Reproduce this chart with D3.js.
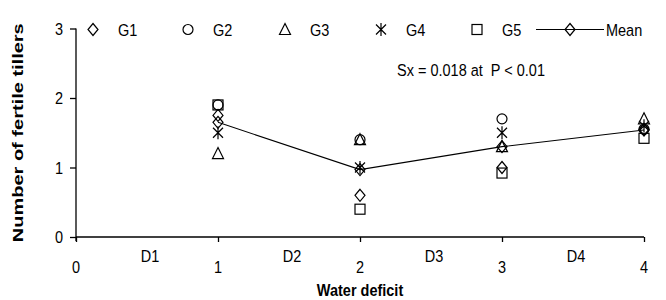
<!DOCTYPE html>
<html lang="en">
<head>
    <meta charset="UTF-8">
    <title>Fertile tillers vs water deficit</title>
    <script src="https://d3js.org/d3.v7.min.js"></script>
    <style>
        body { margin: 0; background: #fff; font-family: "Liberation Sans", Arial, sans-serif; }
        svg text { fill: #000; white-space: pre; }
        .mark { fill: none; stroke: #000; stroke-width: 1.2px; }
    </style>
</head>
<body>
<svg id="chart" width="666" height="300"></svg>
<script>
    // x positions of the measurements (water deficit level)
    const levels = [1, 2, 3, 4];
    const xTicks = [0, 1, 2, 3, 4];
    const yTicks = [0, 1, 2, 3];
    const stageLabels = ["D1", "D2", "D3", "D4"];
    const stagePos = [0.5, 1.5, 2.5, 3.5];

    const genotypes = ["G1", "G2", "G3", "G4", "G5"];
    const g1 = [1.75, 0.6, 1.0, 1.55];
    const g2 = [1.9, 1.4, 1.7, 1.55];
    const g3 = [1.2, 1.4, 1.3, 1.7];
    const g4 = [1.5, 1.0, 1.5, 1.6];
    const g5 = [1.9, 0.4, 0.92, 1.42];
    const meanVals = [1.65, 0.97, 1.3, 1.54];

    const note = "Sx = 0.018 at  P < 0.01";

    const svg = d3.select("#chart");
    const margin = { top: 28.5, right: 22, bottom: 63, left: 76 };
    const W = 666, H = 300;
    const FS = 14.5;      // base font size
    const STRETCH = 1.2;  // the original picture has slightly tall glyphs

    const x = d3.scaleLinear().domain([0, 4]).range([margin.left, W - margin.right]);
    const y = d3.scaleLinear().domain([0, 3]).range([H - margin.bottom, margin.top]);

    // text helper: positions a (vertically stretched) label
    function label(px, py, str, anchor, weight) {
        return svg.append("text")
            .attr("transform", `translate(${px},${py}) scale(1,${STRETCH})`)
            .attr("text-anchor", anchor || "start")
            .attr("dy", "0.35em")
            .attr("font-size", FS)
            .attr("font-weight", weight || "normal")
            .text(str);
    }

    // marker shapes
    function marker(g, kind) {
        if (kind === "diamond") {
            g.append("path").attr("class", "mark").attr("d", "M0,-6L5,0L0,6L-5,0Z");
        } else if (kind === "circle") {
            g.append("circle").attr("class", "mark").attr("r", 5);
        } else if (kind === "triangle") {
            g.append("path").attr("class", "mark").attr("d", "M0,-6L5.5,5L-5.5,5Z");
        } else if (kind === "star") {
            g.append("path").attr("class", "mark").attr("d", "M-5,-5L5,5M-5,5L5,-5M0,-6.5L0,6.5");
        } else if (kind === "square") {
            g.append("rect").attr("class", "mark").attr("x", -5).attr("y", -5).attr("width", 10).attr("height", 10);
        }
    }

    const shapes = ["diamond", "circle", "triangle", "star", "square"];
    const series = [g1, g2, g3, g4, g5];

    // axes
    const xAxis = d3.axisBottom(x).tickValues(xTicks).tickSize(5).tickFormat("");
    const gx = svg.append("g").attr("transform", `translate(0,${y(0)})`).call(xAxis);
    gx.select(".domain").attr("d", `M${x(0)},0H${x(4)}`);
    gx.selectAll("line, path").attr("stroke", "#000").attr("stroke-width", 1.3);

    const yAxis = d3.axisLeft(y).tickValues(yTicks).tickSize(6).tickFormat("");
    const gy = svg.append("g").attr("transform", `translate(${x(0)},0)`).call(yAxis);
    gy.select(".domain").attr("d", `M0,${y(3)}V${y(0) + 4}`);
    gy.selectAll("line, path").attr("stroke", "#000").attr("stroke-width", 1.3);

    yTicks.forEach(d => label(x(0) - 13, y(d), d, "end"));
    xTicks.forEach(d => label(x(d), 267, d, "middle"));
    stageLabels.forEach((d, i) => label(x(stagePos[i]) + 3, 256, d, "middle"));

    // axis titles
    label(x(2), 290, "Water deficit", "middle", "bold");
    svg.append("text")
        .attr("transform", `translate(18,${(y(0) + y(3)) / 2}) rotate(-90) scale(1.38,1)`)
        .attr("text-anchor", "middle").attr("dy", "0.35em")
        .attr("font-size", FS).attr("font-weight", "bold")
        .text("Number of fertile tillers");

    // mean line
    const line = d3.line().x((d, i) => x(levels[i])).y(d => y(d));
    svg.append("path").datum(meanVals).attr("d", line)
        .attr("fill", "none").attr("stroke", "#000").attr("stroke-width", 1.1);

    // genotype points
    series.forEach((vals, si) => {
        vals.forEach((v, i) => {
            const g = svg.append("g").attr("transform", `translate(${x(levels[i])},${y(v)})`);
            marker(g, shapes[si]);
        });
    });
    meanVals.forEach((v, i) => {
        const g = svg.append("g").attr("transform", `translate(${x(levels[i])},${y(v)})`);
        marker(g, "diamond");
    });

    // annotation
    label(471, 70, note, "middle");

    // legend
    const legX = [93, 188, 285, 381, 477];
    const legY = y(3) + 1;
    genotypes.forEach((name, i) => {
        const g = svg.append("g").attr("transform", `translate(${legX[i]},${legY})`);
        marker(g, shapes[i]);
        label(legX[i] + 25, legY, name, "start");
    });
    svg.append("line").attr("x1", 536).attr("x2", 604).attr("y1", legY).attr("y2", legY)
        .attr("stroke", "#000").attr("stroke-width", 1.1);
    const lm = svg.append("g").attr("transform", `translate(570,${legY})`);
    marker(lm, "diamond");
    label(606, legY, "Mean", "start");
</script>
</body>
</html>
